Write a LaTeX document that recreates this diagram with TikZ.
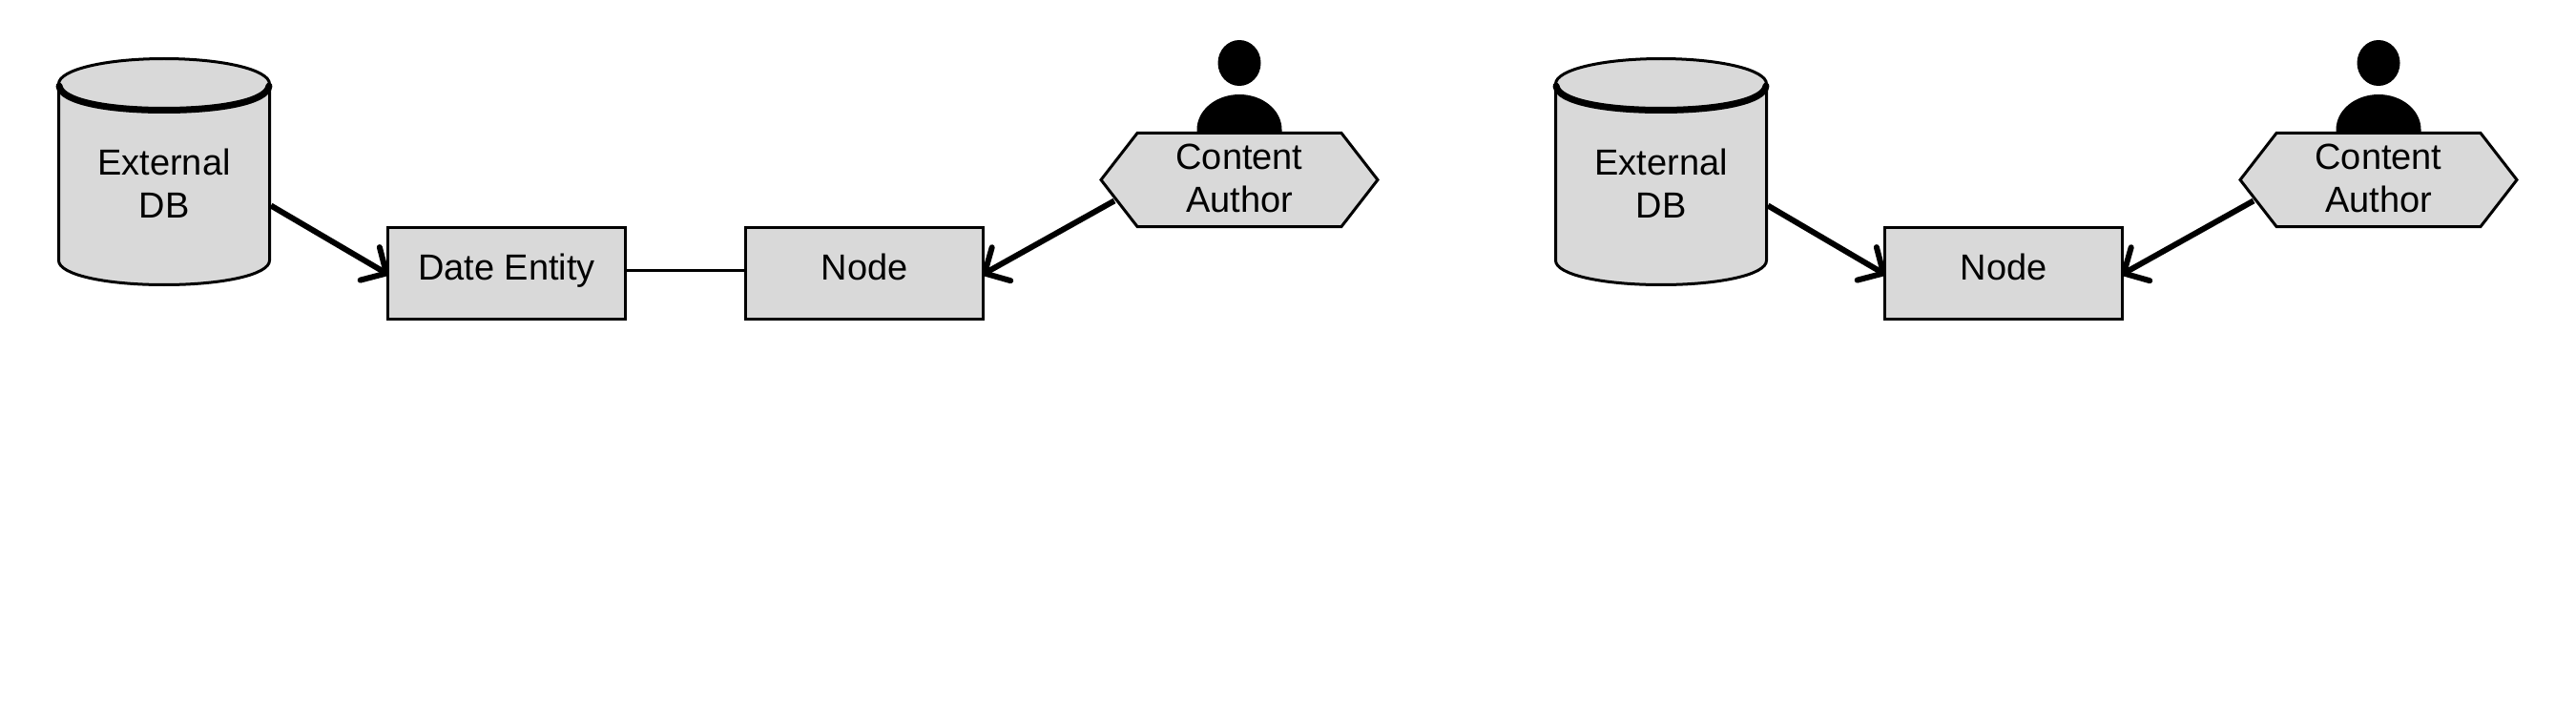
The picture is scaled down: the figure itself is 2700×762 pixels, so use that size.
\documentclass[tikz,border=0pt]{standalone}
\usepackage{fontspec}
\setmainfont{Liberation Sans}
\usetikzlibrary{arrows.meta,calc}
\definecolor{boxgray}{HTML}{D9D9D9}
\tikzset{
  x=1pt,y=-1pt,
  every node/.style={font=\fontsize{38}{45}\selectfont,text=black},
  shapeline/.style={draw=black,line width=3pt,fill=boxgray,line join=miter},
  rectbox/.style={shapeline,rectangle,minimum width=249pt,minimum height=96pt,inner sep=0pt,text height=26pt,text depth=13pt},
  labeltext/.style={align=center,inner sep=0pt},
  flow/.style={draw=black,line width=6pt,shorten >=-3pt,-{Straight Barb[length=20pt,width=40pt,line width=6pt,round]}},
  plain/.style={draw=black,line width=3.5pt}
}
\newcommand{\dbshape}[1]{%
  \begin{scope}[shift={(#1,0)}]
    \path[shapeline] (-110.5,88) -- (-110.5,273) .. controls (-110.5,288) and (-61,298.5) .. (0,298.5)
      .. controls (61,298.5) and (110.5,288) .. (110.5,273) -- (110.5,88)
      .. controls (110.5,73) and (61,61.5) .. (0,61.5) .. controls (-61,61.5) and (-110.5,73) .. (-110.5,88) -- cycle;
    \draw[line width=7pt,line cap=round] (-110,90) .. controls (-108,106) and (-61,115.5) .. (0,115.5)
      .. controls (61,115.5) and (108,106) .. (110,90);
  \end{scope}}
\newcommand{\personshape}[1]{%
  \begin{scope}[shift={(#1,0)}]
    \fill[black] (0,66) ellipse [x radius=22.5pt,y radius=24pt];
    \fill[black] (-44.5,139) -- (-44.5,136) .. controls (-44.5,115) and (-24,99) .. (0,99)
      .. controls (24,99) and (44.5,115) .. (44.5,136) -- (44.5,139) -- cycle;
  \end{scope}}
\newcommand{\hexshape}[1]{%
  \begin{scope}[shift={(#1,0)}]
    \path[shapeline] (-145,188.5) -- (-107,139.5) -- (107,139.5) -- (145,188.5) -- (107,237.5) -- (-107,237.5) -- cycle;
  \end{scope}}
\begin{document}
\begin{tikzpicture}
\useasboundingbox (0,0) rectangle (2700,762);
% left group
\dbshape{172}
\node[labeltext] (dbA) at (172,192.5) {External\\DB};
\node[rectbox] (dateA) at (531,286.5) {Date Entity};
\node[rectbox] (nodeA) at (906,286.5) {Node};
\personshape{1299}
\hexshape{1299}
\node[labeltext] (authorA) at (1299,186.5) {Content\\Author};
\coordinate (dbAout) at ($(dbA.center)+(112,23)$);
\coordinate (authorAout) at ($(authorA.center)+(-131,24)$);
\draw[flow] (dbAout) -- (dateA.west);
\draw[flow] (authorAout) -- (nodeA.east);
\draw[plain] ([yshift=3pt]dateA.east) -- ([yshift=3pt]nodeA.west);
% right group
\dbshape{1741}
\node[labeltext] (dbB) at (1741,192.5) {External\\DB};
\node[rectbox] (nodeB) at (2100,286.5) {Node};
\personshape{2493}
\hexshape{2493}
\node[labeltext] (authorB) at (2493,186.5) {Content\\Author};
\coordinate (dbBout) at ($(dbB.center)+(112,23)$);
\coordinate (authorBout) at ($(authorB.center)+(-131,24)$);
\draw[flow] (dbBout) -- (nodeB.west);
\draw[flow] (authorBout) -- (nodeB.east);
\end{tikzpicture}
\end{document}
